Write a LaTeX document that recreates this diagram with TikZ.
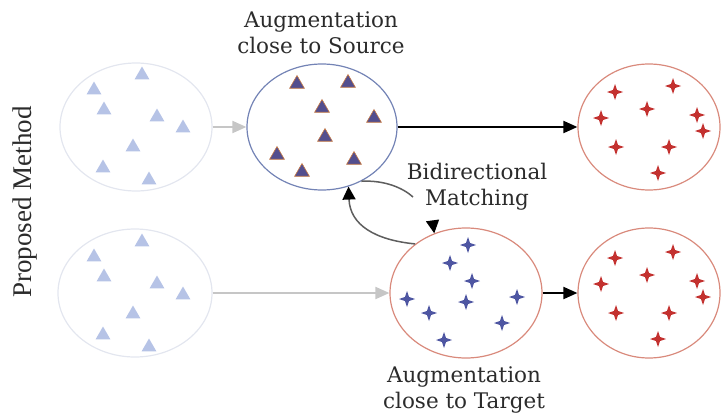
\documentclass[tikz,border=0pt]{standalone}
\usepackage{fontspec}
\setmainfont{DejaVu Serif}
\newfontfamily\sidefont{Liberation Serif}
\usetikzlibrary{arrows.meta,shapes.geometric}
\definecolor{bmInk}{HTML}{2B2B2B}
\definecolor{bmFaint}{HTML}{E3E6EF}
\definecolor{bmPale}{HTML}{B6C3E6}
\definecolor{bmSlate}{HTML}{7383B5}
\definecolor{bmPlum}{HTML}{534E8E}
\definecolor{bmRust}{HTML}{C77A45}
\definecolor{bmSalmon}{HTML}{D98A7C}
\definecolor{bmRed}{HTML}{C3312F}
\definecolor{bmBlue}{HTML}{4E56A2}
\definecolor{bmGrey}{HTML}{C6C6C6}
\definecolor{bmCurve}{HTML}{5E5E5E}
\tikzset{
  blob/.style      ={ellipse,draw,line width=1.2pt,inner sep=0pt,
                     minimum width=152pt,minimum height=128pt},
  faintblob/.style ={blob,draw=bmFaint},
  srcblob/.style   ={blob,draw=bmSlate,minimum width=150pt,minimum height=126pt},
  tgtblob/.style   ={blob,draw=bmSalmon,minimum width=142pt,minimum height=128pt},
  tri/.style       ={regular polygon,regular polygon sides=3,inner sep=0pt,
                     minimum size=17pt},
  palet/.style     ={tri,fill=bmPale},
  darkt/.style     ={tri,fill=bmPlum,draw=bmRust,line width=0.6pt},
  crs/.style       ={star,star points=4,star point ratio=2.8,inner sep=0pt,
                     minimum size=16pt},
  redx/.style      ={crs,fill=bmRed},
  bluex/.style     ={crs,fill=bmBlue},
  fade/.style      ={-{Triangle[length=14pt,width=12pt]},bmGrey,line width=2pt},
  flow/.style      ={-{Triangle[length=14pt,width=12pt]},black,line width=2pt},
  matchline/.style ={bmCurve,line width=1.5pt},
  match/.style     ={-{Triangle[length=13pt,width=13pt,color=black]},matchline},
  lbl/.style       ={font=\fontsize{21.5}{26}\selectfont,text=bmInk,align=center,
                     inner sep=0pt},
}

\begin{document}
\begin{tikzpicture}[x=1pt,y=-1pt]
\useasboundingbox (0,0) rectangle (722,415);

%% point clouds
\node[faintblob] (tl) at (136,127) {};
\node[faintblob,minimum width=154pt] (bl) at (135,293) {};
\node[srcblob] (tm) at (322,127) {};
\node[tgtblob,minimum width=152pt,minimum height=130pt] (bm) at (466,293) {};
\node[tgtblob,minimum height=126pt] (tr) at (649,127) {};
\node[tgtblob,minimum height=130pt] (br) at (649,293) {};

\foreach \x/\y [count=\i] in {142/75, 94/90, 104/110, 157/117, 183/128,
                              133/147, 103/168, 149/180}
  { \node[palet] (pa\i) at (\x,\y) {};
    \node[palet] (pb\i) at (\x,\y+167) {}; }
\foreach \x/\y [count=\i] in {297/84, 348/83, 322/108, 374/118, 325/137,
                              277/155, 302/172, 354/160}
  { \node[darkt] (s\i) at (\x,\y) {}; }
\foreach \x/\y [count=\i] in {615/92, 673/86, 647/109, 601/118, 697/115,
                              703/131, 616/147, 669/147, 658/173}
  { \node[redx] (ra\i) at (\x,\y) {};
    \node[redx] (rb\i) at (\x,\y+166) {}; }
\foreach \x/\y [count=\i] in {468/245, 450/263, 472/281, 407/299, 466/302,
                              517/297, 429/313, 502/323, 444/340}
  { \node[bluex] (t\i) at (\x,\y) {}; }

%% arrows
\draw[fade] (tl) -- (tm);
\draw[flow] (tm) -- (tr);
\draw[fade] (bl) -- (bm);
\draw[flow] (bm) -- (br);

%% labels
\node[lbl] (srclbl) at (321,33) {Augmentation\\close to Source};
\node[lbl] (bdlbl) at (477,187) {Bidirectional\\Matching};
\node[lbl] (tgtlbl) at (464,390) {Augmentation\\close to Target};
\node[font=\sidefont\fontsize{27}{30}\selectfont,text=bmInk,rotate=90]
  (side) at (25,202) {Proposed Method};

%% bidirectional matching
\coordinate (mfrom) at (413,197);
\coordinate (mto) at (433,224);
\draw[match] (bm.136) .. controls (375,240) and (350,225) .. (tm.-66);
\draw[matchline] (tm.-54) .. controls (385,180) and (403,188) .. (mfrom);
\draw[match] (mto) -- (bm.118);
\end{tikzpicture}
\end{document}
